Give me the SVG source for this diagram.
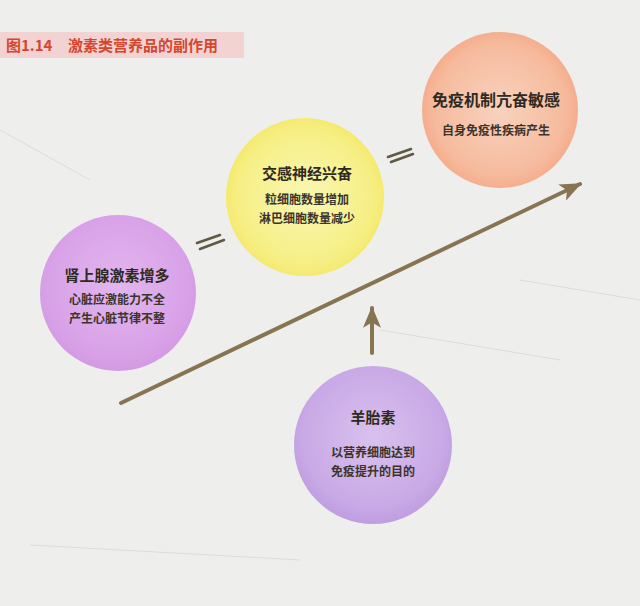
<svg xmlns="http://www.w3.org/2000/svg" width="640" height="606" viewBox="0 0 640 606">
<defs>
<radialGradient id="gPurple" cx="50%" cy="45%" r="55%">
<stop offset="0" stop-color="#e2b6ee"/><stop offset="0.8" stop-color="#d9a2e8"/><stop offset="1" stop-color="#d29ae2"/>
</radialGradient>
<radialGradient id="gYellow" cx="50%" cy="50%" r="55%">
<stop offset="0" stop-color="#f9f7b2"/><stop offset="0.75" stop-color="#f6ef86"/><stop offset="1" stop-color="#f3e764"/>
</radialGradient>
<radialGradient id="gOrange" cx="50%" cy="50%" r="55%">
<stop offset="0" stop-color="#f8d2bd"/><stop offset="0.75" stop-color="#f6bb9e"/><stop offset="1" stop-color="#f4a684"/>
</radialGradient>
<radialGradient id="gLav" cx="50%" cy="45%" r="55%">
<stop offset="0" stop-color="#d9c1ee"/><stop offset="0.8" stop-color="#c9a9e6"/><stop offset="1" stop-color="#bf9de0"/>
</radialGradient>
<marker id="ah" viewBox="0 0 12 10" refX="11" refY="5" markerWidth="5.5" markerHeight="4.5" orient="auto" markerUnits="strokeWidth">
<path d="M0,0 L12,5 L0,10 L3,5 Z" fill="#877451"/>
</marker>
<style>
.title{font-family:"Noto Sans CJK SC","Noto Sans",sans-serif;font-weight:bold;font-size:15px;fill:#2e2a22;text-anchor:middle}
.sub{font-family:"Noto Sans CJK SC","Noto Sans",sans-serif;font-weight:bold;font-size:12px;fill:#3a352c;text-anchor:middle}
.cap{font-family:"Noto Sans CJK SC","Noto Sans",sans-serif;font-weight:bold;font-size:15px;fill:#d4472f}
.conn{stroke:#877451;stroke-width:4;fill:none;stroke-linecap:round}
.eq{stroke:#5f5a44;stroke-width:2.6;stroke-linecap:round}
</style>
</defs>
<rect width="640" height="606" fill="#eeeeec"/>
<g id="faint" stroke="#dcdcda" stroke-width="1" fill="none">
<path d="M0,130 L90,180"/>
<path d="M520,280 L640,300"/>
<path d="M380,330 L560,360"/>
<path d="M30,545 L300,560"/>
</g>
<g id="caption">
<rect x="0" y="32" width="244" height="26" fill="#f3d3d2"/>
<text class="cap" x="6" y="51">图1.14</text>
<text class="cap" x="68" y="51">激素类营养品的副作用</text>
</g>
<g id="connectors">
<line class="conn" x1="121" y1="403" x2="580" y2="184" marker-end="url(#ah)"/>
<line class="conn" x1="372" y1="353" x2="372" y2="308" marker-end="url(#ah)"/>
<line class="eq" x1="197" y1="243" x2="220" y2="235"/>
<line class="eq" x1="200" y1="249" x2="224" y2="240"/>
<line class="eq" x1="388" y1="157" x2="411" y2="149"/>
<line class="eq" x1="391" y1="162" x2="413" y2="154"/>
</g>
<g id="node-adrenal">
<circle cx="118" cy="293" r="78" fill="url(#gPurple)"/>
<text class="title" x="117" y="281">肾上腺激素增多</text>
<text class="sub" x="117" y="304">心脏应激能力不全</text>
<text class="sub" x="117" y="323">产生心脏节律不整</text>
</g>
<g id="node-sympathetic">
<circle cx="305" cy="197" r="79" fill="url(#gYellow)"/>
<text class="title" x="307" y="179">交感神经兴奋</text>
<text class="sub" x="307" y="204">粒细胞数量增加</text>
<text class="sub" x="307" y="223">淋巴细胞数量减少</text>
</g>
<g id="node-immune">
<circle cx="500" cy="110" r="78" fill="url(#gOrange)"/>
<text class="title" x="496" y="106" style="font-size:16px">免疫机制亢奋敏感</text>
<text class="sub" x="496" y="135">自身免疫性疾病产生</text>
</g>
<g id="node-placenta">
<circle cx="373" cy="445" r="79" fill="url(#gLav)"/>
<text class="title" x="373" y="423">羊胎素</text>
<text class="sub" x="373" y="457">以营养细胞达到</text>
<text class="sub" x="373" y="476">免疫提升的目的</text>
</g>
</svg>
